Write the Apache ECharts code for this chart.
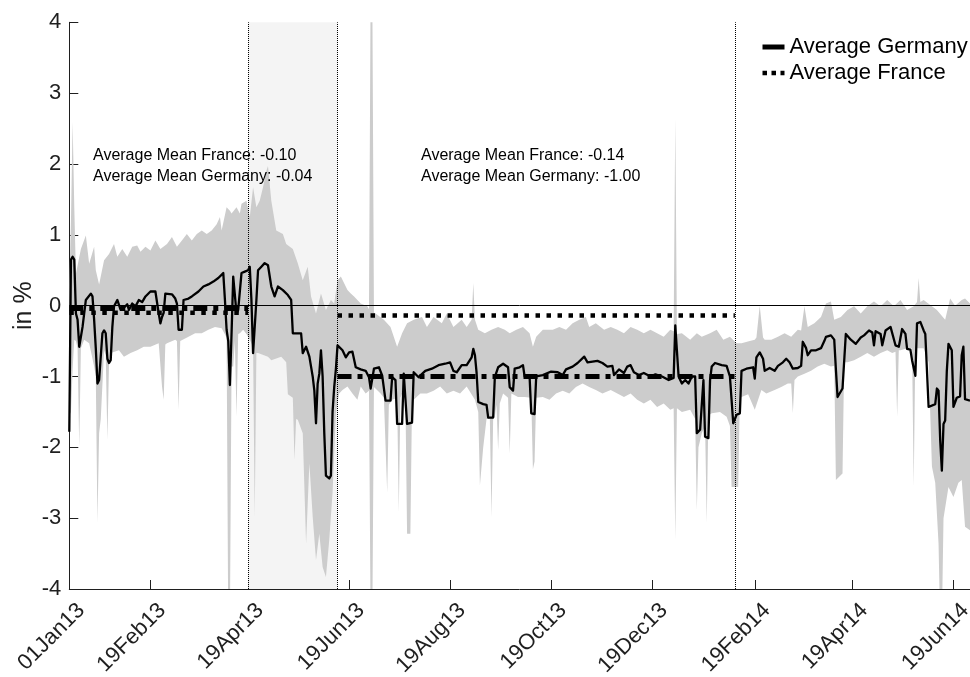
<!DOCTYPE html>
<html>
<head>
<meta charset="utf-8">
<script src="https://cdn.jsdelivr.net/npm/echarts@6/dist/echarts.min.js"></script>
<style>
  html, body { margin: 0; padding: 0; background: #fff; }
  #chart { width: 970px; height: 677px; }
</style>
</head>
<body>
<div id="chart"></div>
<script>
// Axis ticks
const tickDates = ['2013-01-01','2013-02-19','2013-04-19','2013-06-19','2013-08-19','2013-10-19','2013-12-19','2014-02-19','2014-04-19','2014-06-19'];
const tickLabels = ['01Jan13','19Feb13','19Apr13','19Jun13','19Aug13','19Oct13','19Dec13','19Feb14','19Apr14','19Jun14'];
const axisStart = '2013-01-01';
const axisEnd = '2014-06-29';

// Sub-periods and their averages
const periodOne = ['2013-01-01','2013-04-19'];
const periodTwo = ['2013-06-12','2014-02-07'];
const avgGermany = [-0.04, -1.00];
const avgFrance = [-0.10, -0.14];
const eventDates = ['2013-04-19','2013-06-12','2014-02-07'];
const shadedPeriod = ['2013-04-19','2013-06-12'];

// Range band (upper and lower edge)
const bandUpper = [
['2013-01-01',0.30],['2013-01-02',1.20],['2013-01-03',2.60],['2013-01-04',1.40],['2013-01-05',0.45],['2013-01-08',0.80],['2013-01-11',0.99],['2013-01-13',0.59],['2013-01-16',0.83],['2013-01-17',0.50],['2013-01-19',0.30],['2013-01-22',0.64],['2013-01-25',0.73],['2013-01-28',0.87],['2013-01-30',0.69],
['2013-02-02',0.80],['2013-02-05',0.69],['2013-02-08',0.83],['2013-02-11',0.85],['2013-02-13',0.76],['2013-02-16',0.83],['2013-02-19',0.78],['2013-02-22',0.92],['2013-02-25',0.80],
['2013-03-01',0.87],['2013-03-04',0.97],['2013-03-07',0.83],['2013-03-10',0.92],['2013-03-13',1.01],['2013-03-16',0.92],['2013-03-19',1.01],['2013-03-22',1.06],['2013-03-25',1.01],['2013-03-28',1.06],['2013-03-31',1.15],
['2013-04-02',1.25],['2013-04-03',1.06],['2013-04-06',1.39],['2013-04-08',1.34],['2013-04-09',1.30],['2013-04-12',1.39],['2013-04-14',1.30],['2013-04-15',1.44],['2013-04-18',1.48],['2013-04-20',1.25],['2013-04-22',1.67],['2013-04-24',1.39],['2013-04-26',1.48],['2013-04-28',1.67],['2013-04-30',1.90],
['2013-05-01',1.97],['2013-05-03',1.48],['2013-05-06',1.06],['2013-05-10',1.01],['2013-05-12',0.87],['2013-05-16',0.80],['2013-05-19',0.60],['2013-05-22',0.36],['2013-05-25',0.55],['2013-05-27',0.13],['2013-05-30',-0.11],
['2013-06-02',0.17],['2013-06-05',-0.06],['2013-06-08',0.08],['2013-06-10',0.03],['2013-06-12',0.36],['2013-06-14',0.41],['2013-06-18',0.22],['2013-06-20',0.17],['2013-06-22',0.13],['2013-06-26',0.03],['2013-06-30',-0.01],
['2013-07-01',-0.05],['2013-07-02',4.5],['2013-07-03',4.5],['2013-07-04',-0.10],['2013-07-05',-0.11],['2013-07-10',-0.20],['2013-07-14',-0.30],['2013-07-18',-0.58],['2013-07-21',-0.39],['2013-07-24',-0.25],['2013-07-28',-0.20],
['2013-08-02',-0.16],['2013-08-05',-0.30],['2013-08-09',-0.16],['2013-08-14',-0.25],['2013-08-17',-0.11],['2013-08-21',-0.30],['2013-08-26',-0.20],['2013-08-29',-0.30],
['2013-09-01',-0.20],['2013-09-02',0.32],['2013-09-03',-0.20],['2013-09-05',-0.34],['2013-09-09',-0.39],['2013-09-13',-0.34],['2013-09-17',-0.30],['2013-09-21',-0.34],['2013-09-24',-0.39],['2013-09-28',-0.34],
['2013-10-02',-0.30],['2013-10-06',-0.39],['2013-10-08',-0.58],['2013-10-10',-0.44],['2013-10-14',-0.34],['2013-10-20',-0.34],['2013-10-24',-0.30],['2013-10-28',-0.34],
['2013-11-01',-0.25],['2013-11-05',-0.20],['2013-11-09',-0.16],['2013-11-11',-0.30],['2013-11-15',-0.25],['2013-11-20',-0.34],['2013-11-24',-0.30],['2013-11-28',-0.34],
['2013-12-02',-0.39],['2013-12-06',-0.30],['2013-12-10',-0.34],['2013-12-14',-0.39],['2013-12-18',-0.34],['2013-12-22',-0.39],['2013-12-26',-0.44],['2013-12-30',-0.34],
['2014-01-01',-0.36],['2014-01-02',2.65],['2014-01-03',-0.40],['2014-01-06',-0.39],['2014-01-11',-0.48],['2014-01-15',-0.39],['2014-01-18',-0.44],['2014-01-23',-0.39],['2014-01-27',-0.34],['2014-01-31',-0.48],
['2014-02-04',-0.44],['2014-02-08',-0.53],['2014-02-11',-0.53],['2014-02-16',-0.50],['2014-02-19',-0.48],['2014-02-20',-0.45],['2014-02-22',0.00],['2014-02-24',-0.45],['2014-02-25',-0.48],
['2014-03-01',-0.48],['2014-03-05',-0.44],['2014-03-09',-0.39],['2014-03-13',-0.44],['2014-03-17',-0.34],['2014-03-19',-0.35],['2014-03-21',-0.01],['2014-03-23',-0.30],['2014-03-27',-0.25],['2014-03-31',-0.16],
['2014-04-03',0.03],['2014-04-06',0.06],['2014-04-08',-0.20],['2014-04-12',-0.16],['2014-04-16',-0.06],['2014-04-20',-0.01],['2014-04-24',-0.11],['2014-04-28',-0.01],
['2014-05-02',0.06],['2014-05-06',-0.01],['2014-05-10',0.08],['2014-05-14',-0.01],['2014-05-18',0.08],['2014-05-22',-0.06],['2014-05-26',-0.01],['2014-05-28',0.05],['2014-05-29',0.39],['2014-05-30',0.05],
['2014-06-01',0.08],['2014-06-06',-0.01],['2014-06-09',-0.06],['2014-06-14',-0.20],['2014-06-17',0.10],['2014-06-20',0.00],['2014-06-24',0.08],['2014-06-26',0.10],['2014-06-29',0.03]
];
const bandLower = [
['2013-01-01',-1.55],['2013-01-02',-1.50],['2013-01-03',-0.90],['2013-01-04',-0.48],['2013-01-05',-0.50],['2013-01-06',-0.60],['2013-01-07',-2.00],['2013-01-08',-0.60],['2013-01-10',-0.48],['2013-01-13',-0.53],['2013-01-16',-0.86],['2013-01-17',-1.00],['2013-01-18',-3.07],['2013-01-19',-1.80],['2013-01-20',-1.60],['2013-01-22',-0.63],['2013-01-23',-0.70],['2013-01-24',-1.90],['2013-01-25',-0.80],['2013-01-26',-0.67],['2013-01-31',-0.63],
['2013-02-03',-0.72],['2013-02-07',-0.67],['2013-02-11',-0.63],['2013-02-15',-0.58],['2013-02-19',-0.58],['2013-02-24',-0.53],['2013-02-26',-1.14],['2013-02-27',-1.33],['2013-02-28',-0.55],
['2013-03-01',-0.53],['2013-03-06',-0.48],['2013-03-07',-0.50],['2013-03-08',-1.47],['2013-03-09',-0.50],['2013-03-14',-0.44],['2013-03-18',-0.39],['2013-03-22',-0.39],['2013-03-26',-0.34],['2013-03-30',-0.30],
['2013-04-03',-0.32],['2013-04-06',-0.45],['2013-04-07',-4.5],['2013-04-08',-4.5],['2013-04-09',-0.86],['2013-04-10',-0.86],['2013-04-11',-0.50],['2013-04-12',-1.57],['2013-04-13',-0.40],['2013-04-14',-0.39],['2013-04-16',-0.34],['2013-04-18',-0.40],['2013-04-20',-0.48],['2013-04-22',-0.58],['2013-04-23',-2.98],['2013-04-24',-0.67],['2013-04-25',-0.67],
['2013-05-01',-0.72],['2013-05-03',-0.77],['2013-05-09',-0.72],['2013-05-12',-0.80],['2013-05-13',-1.25],['2013-05-16',-1.30],['2013-05-17',-2.18],['2013-05-18',-1.60],['2013-05-19',-1.61],['2013-05-22',-1.80],['2013-05-24',-3.36],['2013-05-26',-2.23],['2013-05-28',-2.98],['2013-05-30',-3.59],
['2013-06-01',-3.22],['2013-06-03',-3.69],['2013-06-05',-3.83],['2013-06-07',-3.31],['2013-06-09',-2.64],['2013-06-11',-1.52],['2013-06-13',-1.24],['2013-06-15',-1.19],['2013-06-18',-1.14],['2013-06-21',-1.24],['2013-06-24',-1.33],['2013-06-26',-1.14],['2013-06-29',-1.24],
['2013-07-01',-1.20],['2013-07-02',-4.5],['2013-07-03',-4.5],['2013-07-04',-1.15],['2013-07-08',-1.24],['2013-07-10',-1.30],['2013-07-12',-2.64],['2013-07-13',-1.40],['2013-07-15',-1.33],['2013-07-18',-1.30],['2013-07-19',-2.92],['2013-07-20',-1.30],['2013-07-21',-1.24],['2013-07-23',-1.30],['2013-07-24',-3.22],['2013-07-26',-3.22],['2013-07-27',-1.35],['2013-07-28',-1.33],
['2013-08-01',-1.24],['2013-08-05',-1.24],['2013-08-09',-1.20],['2013-08-13',-1.14],['2013-08-17',-1.24],['2013-08-21',-1.20],['2013-08-25',-1.24],['2013-08-29',-1.14],
['2013-09-03',-1.33],['2013-09-05',-1.50],['2013-09-06',-2.54],['2013-09-08',-2.00],['2013-09-10',-1.60],['2013-09-12',-1.60],['2013-09-13',-2.99],['2013-09-14',-1.60],['2013-09-15',-1.57],['2013-09-16',-1.40],['2013-09-17',-2.04],['2013-09-18',-1.38],['2013-09-20',-1.24],['2013-09-23',-1.30],['2013-09-24',-2.09],['2013-09-25',-1.24],['2013-09-29',-1.29],
['2013-10-03',-1.29],['2013-10-07',-1.30],['2013-10-08',-2.31],['2013-10-09',-2.20],['2013-10-10',-1.30],['2013-10-14',-1.29],['2013-10-18',-1.33],['2013-10-22',-1.24],['2013-10-26',-1.20],['2013-10-30',-1.24],
['2013-11-03',-1.15],['2013-11-07',-1.10],['2013-11-11',-1.15],['2013-11-15',-1.19],['2013-11-19',-1.24],['2013-11-24',-1.19],['2013-11-28',-1.24],
['2013-12-02',-1.29],['2013-12-06',-1.24],['2013-12-10',-1.33],['2013-12-14',-1.38],['2013-12-18',-1.33],['2013-12-22',-1.43],['2013-12-26',-1.38],['2013-12-30',-1.47],
['2014-01-01',-1.45],['2014-01-02',-3.31],['2014-01-03',-1.45],['2014-01-06',-1.50],['2014-01-11',-1.47],['2014-01-14',-1.60],['2014-01-15',-2.89],['2014-01-16',-2.00],['2014-01-18',-1.80],['2014-01-20',-1.70],['2014-01-21',-3.07],['2014-01-22',-1.55],['2014-01-24',-1.52],['2014-01-29',-1.50],
['2014-02-02',-1.57],['2014-02-04',-1.70],['2014-02-05',-2.56],['2014-02-09',-2.56],['2014-02-10',-1.30],['2014-02-11',-1.29],['2014-02-15',-1.25],['2014-02-19',-1.47],['2014-02-23',-1.19],['2014-02-26',-1.24],
['2014-03-03',-1.19],['2014-03-07',-1.15],['2014-03-11',-1.10],['2014-03-13',-1.10],['2014-03-14',-1.52],['2014-03-15',-1.05],['2014-03-17',-1.00],['2014-03-21',-0.96],['2014-03-25',-0.92],['2014-03-29',-0.86],
['2014-04-02',-0.82],['2014-04-06',-0.86],['2014-04-08',-0.85],['2014-04-09',-2.46],['2014-04-13',-2.37],['2014-04-14',-0.80],['2014-04-16',-0.80],['2014-04-20',-0.77],['2014-04-24',-0.72],['2014-04-28',-0.67],
['2014-05-02',-0.72],['2014-05-06',-0.67],['2014-05-10',-0.63],['2014-05-13',-0.67],['2014-05-15',-0.65],['2014-05-16',-1.57],['2014-05-17',-0.63],['2014-05-18',-0.63],['2014-05-22',-0.60],['2014-05-25',-0.60],['2014-05-26',-2.56],['2014-05-27',-0.60],['2014-05-29',-0.60],
['2014-06-01',-0.60],['2014-06-04',-0.80],['2014-06-06',-2.27],['2014-06-08',-2.50],['2014-06-10',-3.36],['2014-06-11',-4.5],['2014-06-12',-4.5],['2014-06-13',-3.00],['2014-06-16',-2.56],['2014-06-19',-2.70],['2014-06-22',-2.50],['2014-06-24',-2.46],['2014-06-26',-3.12],['2014-06-29',-3.17]
];

// Germany mean
const germanyMean = [
['2013-01-01',-1.78],['2013-01-02',0.65],['2013-01-03',0.69],['2013-01-04',0.65],['2013-01-05',-0.11],['2013-01-06',-0.20],['2013-01-07',-0.58],['2013-01-09',-0.30],['2013-01-11',0.08],['2013-01-14',0.17],['2013-01-15',0.13],['2013-01-16',-0.20],['2013-01-17',-0.60],['2013-01-18',-1.10],['2013-01-19',-1.05],['2013-01-21',-0.39],['2013-01-22',-0.35],['2013-01-23',-0.39],['2013-01-24',-0.75],['2013-01-25',-0.81],['2013-01-26',-0.77],['2013-01-27',-0.30],['2013-01-28',-0.01],['2013-01-30',0.08],
['2013-02-01',-0.06],['2013-02-03',-0.03],['2013-02-05',0.02],['2013-02-06',-0.06],['2013-02-08',0.03],['2013-02-10',-0.01],['2013-02-12',0.08],['2013-02-14',0.05],['2013-02-16',0.13],['2013-02-19',0.20],['2013-02-22',0.20],['2013-02-23',0.18],['2013-02-24',-0.11],['2013-02-25',-0.25],['2013-02-26',-0.16],['2013-02-27',-0.10],['2013-02-28',0.17],
['2013-03-04',0.16],['2013-03-06',0.10],['2013-03-07',0.03],['2013-03-08',-0.34],['2013-03-10',-0.34],['2013-03-11',0.08],['2013-03-14',0.10],['2013-03-16',0.13],['2013-03-20',0.20],['2013-03-23',0.27],['2013-03-26',0.30],['2013-03-29',0.34],
['2013-04-01',0.39],['2013-04-04',0.46],['2013-04-05',0.08],['2013-04-06',-0.34],['2013-04-07',-0.50],['2013-04-08',-1.12],['2013-04-09',-0.39],['2013-04-10',0.41],['2013-04-11',0.41],['2013-04-12',-0.11],['2013-04-13',-0.06],['2013-04-15',0.46],['2013-04-17',0.48],['2013-04-18',0.46],['2013-04-19',0.50],['2013-04-20',0.55],['2013-04-21',0.08],['2013-04-22',-0.67],['2013-04-23',-0.67],['2013-04-24',0.08],['2013-04-25',0.50],['2013-04-27',0.55],['2013-04-29',0.60],
['2013-05-01',0.57],['2013-05-03',0.27],['2013-05-05',0.13],['2013-05-07',0.27],['2013-05-10',0.22],['2013-05-13',0.15],['2013-05-15',0.08],['2013-05-16',-0.39],['2013-05-18',-0.39],['2013-05-21',-0.39],['2013-05-22',-0.67],['2013-05-24',-0.58],['2013-05-26',-0.72],['2013-05-28',-1.00],['2013-05-29',-1.20],['2013-05-30',-1.66],['2013-05-31',-1.10],
['2013-06-01',-0.96],['2013-06-02',-0.63],['2013-06-03',-1.00],['2013-06-04',-1.80],['2013-06-05',-2.40],['2013-06-07',-2.44],['2013-06-08',-2.40],['2013-06-09',-1.50],['2013-06-10',-1.15],['2013-06-11',-0.90],['2013-06-12',-0.56],['2013-06-15',-0.63],['2013-06-17',-0.73],['2013-06-19',-0.66],['2013-06-21',-0.65],['2013-06-23',-0.87],['2013-06-26',-0.90],['2013-06-29',-0.92],
['2013-07-01',-1.01],['2013-07-02',-1.17],['2013-07-04',-0.89],['2013-07-07',-0.87],['2013-07-09',-0.99],['2013-07-11',-1.34],['2013-07-14',-1.34],['2013-07-15',-1.01],['2013-07-17',-1.05],['2013-07-18',-1.67],['2013-07-21',-1.67],['2013-07-22',-0.96],['2013-07-23',-0.96],['2013-07-24',-1.67],['2013-07-27',-1.65],['2013-07-28',-0.94],['2013-07-31',-1.01],
['2013-08-04',-0.92],['2013-08-08',-0.89],['2013-08-12',-0.84],['2013-08-16',-0.82],['2013-08-19',-0.80],['2013-08-21',-0.92],['2013-08-23',-0.94],['2013-08-26',-0.84],['2013-08-29',-0.84],
['2013-09-01',-0.73],['2013-09-02',-0.61],['2013-09-03',-0.70],['2013-09-04',-0.95],['2013-09-05',-1.36],['2013-09-08',-1.39],['2013-09-10',-1.40],['2013-09-11',-1.58],['2013-09-14',-1.58],['2013-09-15',-1.01],['2013-09-17',-0.87],['2013-09-20',-0.82],['2013-09-23',-0.87],['2013-09-24',-1.15],['2013-09-26',-1.20],['2013-09-27',-0.89],['2013-09-30',-0.87],
['2013-10-02',-0.84],['2013-10-03',-1.00],['2013-10-06',-1.00],['2013-10-07',-1.52],['2013-10-09',-1.53],['2013-10-10',-1.00],['2013-10-14',-0.98],['2013-10-19',-0.93],['2013-10-23',-0.94],['2013-10-26',-0.98],['2013-10-28',-0.90],
['2013-11-01',-0.86],['2013-11-04',-0.81],['2013-11-08',-0.72],['2013-11-10',-0.80],['2013-11-13',-0.79],['2013-11-16',-0.78],['2013-11-19',-0.81],['2013-11-22',-0.86],['2013-11-25',-0.85],['2013-11-26',-0.98],['2013-11-29',-0.90],
['2013-12-02',-0.95],['2013-12-04',-0.86],['2013-12-06',-0.84],['2013-12-08',-0.94],['2013-12-11',-0.98],['2013-12-14',-0.95],['2013-12-18',-1.00],['2013-12-21',-0.97],['2013-12-25',-1.00],['2013-12-29',-1.05],
['2014-01-01',-1.02],['2014-01-02',-0.28],['2014-01-03',-0.27],['2014-01-04',-1.00],['2014-01-06',-1.10],['2014-01-08',-1.05],['2014-01-10',-1.10],['2014-01-12',-1.00],['2014-01-14',-1.00],['2014-01-15',-1.80],['2014-01-17',-1.75],['2014-01-19',-1.05],['2014-01-20',-1.85],['2014-01-22',-1.87],['2014-01-23',-1.05],['2014-01-24',-0.86],['2014-01-26',-0.81],['2014-01-30',-0.84],
['2014-02-02',-0.85],['2014-02-04',-1.00],['2014-02-05',-1.00],['2014-02-06',-1.66],['2014-02-08',-1.54],['2014-02-10',-1.52],['2014-02-11',-0.92],['2014-02-14',-0.89],['2014-02-18',-0.87],['2014-02-19',-1.03],['2014-02-20',-0.73],['2014-02-22',-0.66],['2014-02-24',-0.75],['2014-02-25',-0.92],['2014-02-28',-0.88],
['2014-03-03',-0.92],['2014-03-05',-0.85],['2014-03-08',-0.80],['2014-03-10',-0.75],['2014-03-12',-0.80],['2014-03-14',-0.89],['2014-03-17',-0.88],['2014-03-19',-0.85],['2014-03-20',-0.51],['2014-03-22',-0.60],['2014-03-23',-0.70],['2014-03-25',-0.63],['2014-03-28',-0.63],['2014-03-31',-0.60],
['2014-04-02',-0.50],['2014-04-03',-0.44],['2014-04-06',-0.42],['2014-04-08',-0.48],['2014-04-09',-0.90],['2014-04-10',-1.29],['2014-04-13',-1.17],['2014-04-15',-0.40],['2014-04-18',-0.48],['2014-04-21',-0.54],['2014-04-24',-0.45],['2014-04-26',-0.42],['2014-04-29',-0.35],
['2014-05-01',-0.38],['2014-05-02',-0.56],['2014-05-03',-0.36],['2014-05-06',-0.40],['2014-05-07',-0.56],['2014-05-09',-0.35],['2014-05-12',-0.30],['2014-05-15',-0.56],['2014-05-17',-0.58],['2014-05-19',-0.33],['2014-05-21',-0.40],['2014-05-22',-0.61],['2014-05-24',-0.62],['2014-05-25',-0.77],['2014-05-27',-0.99],['2014-05-28',-0.25],['2014-05-30',-0.23],
['2014-06-01',-0.35],['2014-06-02',-0.40],['2014-06-04',-1.43],['2014-06-08',-1.39],['2014-06-09',-1.17],['2014-06-10',-1.20],['2014-06-11',-1.90],['2014-06-12',-2.33],['2014-06-13',-1.67],['2014-06-14',-1.62],['2014-06-15',-0.92],['2014-06-16',-0.54],['2014-06-18',-0.63],['2014-06-19',-1.43],['2014-06-21',-1.30],['2014-06-23',-1.28],['2014-06-24',-0.70],['2014-06-25',-0.58],['2014-06-26',-1.32],['2014-06-29',-1.34]
];

// ---------- helpers ----------
const day = s => { const [y, m, d] = s.split('-').map(Number); return new Date(y, m - 1, d).getTime(); };
const toPoints = arr => arr.map(p => [day(p[0]), p[1]]);
const FONT = '"Liberation Sans", Arial, Helvetica, sans-serif';
const INK = '#1f1f1f';

const tickValues = tickDates.map(day);
const labelOf = new Map(tickValues.map((v, i) => [v, tickLabels[i]]));

// two flat segments per country, separated by a gap
const averageLine = vals => [
  [day(periodOne[0]), vals[0]], [day(periodOne[1]), vals[0]],
  [day(periodOne[1]) + 86400000, null],
  [day(periodTwo[0]), vals[1]], [day(periodTwo[1]), vals[1]]
];

const upperPts = toPoints(bandUpper);
const lowerPts = toPoints(bandLower);

const note = i => 'Average Mean France: ' + avgFrance[i].toFixed(2) + '\nAverage Mean Germany: ' + avgGermany[i].toFixed(2);

const chart = echarts.init(document.getElementById('chart'), null, { renderer: 'canvas' });

chart.setOption({
  animation: false,
  backgroundColor: '#ffffff',
  grid: { left: 69.3, right: 0, top: 22.3, bottom: 88, containLabel: false, outerBoundsMode: 'none' },
  xAxis: {
    // dates as timestamps on a linear axis, ticks at the listed dates
    type: 'value',
    min: day(axisStart),
    max: day(axisEnd),
    axisLine: { show: true, onZero: false, lineStyle: { color: INK, width: 1 } },
    axisTick: { show: true, inside: true, length: 9, customValues: tickValues, lineStyle: { color: INK, width: 1 } },
    axisLabel: {
      customValues: tickValues,
      formatter: v => labelOf.get(v) || '',
      rotate: 45,
      margin: 6,
      align: 'right',
      verticalAlign: 'top',
      lineHeight: 34,
      hideOverlap: false,
      fontSize: 22,
      fontFamily: FONT,
      color: INK
    },
    splitLine: { show: false }
  },
  yAxis: {
    type: 'value',
    min: -4, max: 4, interval: 1,
    name: 'in %',
    nameLocation: 'middle',
    nameGap: 33,
    nameRotate: 90,
    nameMoveOverlap: false,
    nameTextStyle: { fontSize: 25, fontFamily: FONT, color: INK },
    axisLine: { show: true, lineStyle: { color: INK, width: 1 } },
    axisTick: { show: true, inside: true, length: 9, lineStyle: { color: INK, width: 1 } },
    axisLabel: { fontSize: 22, fontFamily: FONT, color: INK, margin: 8 },
    splitLine: { show: false }
  },
  legend: {
    left: 760, top: 36, orient: 'vertical',
    padding: 0, itemGap: 4, itemWidth: 22, itemHeight: 6,
    selectedMode: false,
    textStyle: { fontSize: 22, fontFamily: FONT, color: '#000' },
    data: [
      { name: 'Average Germany', itemStyle: { opacity: 0 }, lineStyle: { type: 'solid', width: 5, color: '#000' } },
      { name: 'Average France', itemStyle: { opacity: 0 }, lineStyle: { type: [4.5, 4.5], width: 4.5, color: '#000' } }
    ]
  },
  graphic: [
    { type: 'text', x: 93, y: 145, silent: true, z: 50,
      style: { text: note(0), fontSize: 16, fontFamily: FONT, fill: '#000', lineHeight: 21, verticalAlign: 'top' } },
    { type: 'text', x: 421, y: 145, silent: true, z: 50,
      style: { text: note(1), fontSize: 16, fontFamily: FONT, fill: '#000', lineHeight: 21, verticalAlign: 'top' } }
  ],
  series: [
    {
      // light shading between the two event dates
      name: 'shade', type: 'line', data: [[day(shadedPeriod[0]), null]], z: 0, silent: true,
      symbol: 'none',
      markArea: {
        silent: true,
        itemStyle: { color: '#f4f4f4' },
        data: [[{ xAxis: day(shadedPeriod[0]) }, { xAxis: day(shadedPeriod[1]) }]]
      }
    },
    {
      // range band between lower and upper edge
      name: 'band', type: 'custom', coordinateSystem: 'cartesian2d', clip: true, silent: true, z: 1,
      data: [[day(axisStart), 0]],
      renderItem: (params, api) => {
        const pts = upperPts.map(p => api.coord(p))
          .concat(lowerPts.slice().reverse().map(p => api.coord(p)));
        return { type: 'polygon', shape: { points: pts }, style: { fill: '#cccccc', stroke: null } };
      }
    },
    {
      // reference lines: zero and event dates
      name: 'refs', type: 'line', data: [[day(axisStart), null]], z: 3, silent: true, symbol: 'none',
      markLine: {
        silent: true, symbol: ['none', 'none'], animation: false,
        label: { show: false },
        data: [
          { yAxis: 0, lineStyle: { type: 'solid', color: '#000', width: 1 } }
        ].concat(eventDates.map(d => ({ xAxis: day(d), lineStyle: { type: [1, 1], color: '#000', width: 1 } })))
      }
    },
    {
      name: 'Average Germany', type: 'line', data: averageLine(avgGermany), z: 4,
      symbol: 'none', showSymbol: false, connectNulls: false, clip: true,
      itemStyle: { color: '#000' },
      lineStyle: { color: '#000', width: 5, type: [14, 6, 5, 6], cap: 'butt' }
    },
    {
      name: 'Average France', type: 'line', data: averageLine(avgFrance), z: 4,
      symbol: 'none', showSymbol: false, connectNulls: false, clip: true,
      itemStyle: { color: '#000' },
      lineStyle: { color: '#000', width: 4.5, type: [4.5, 6.5], cap: 'butt' }
    },
    {
      name: 'Germany', type: 'line', data: toPoints(germanyMean), z: 5,
      symbol: 'none', showSymbol: false, clip: true, smooth: false,
      itemStyle: { color: '#000' },
      lineStyle: { color: '#000', width: 2.3, join: 'round' }
    }
  ]
});
</script>
</body>
</html>
